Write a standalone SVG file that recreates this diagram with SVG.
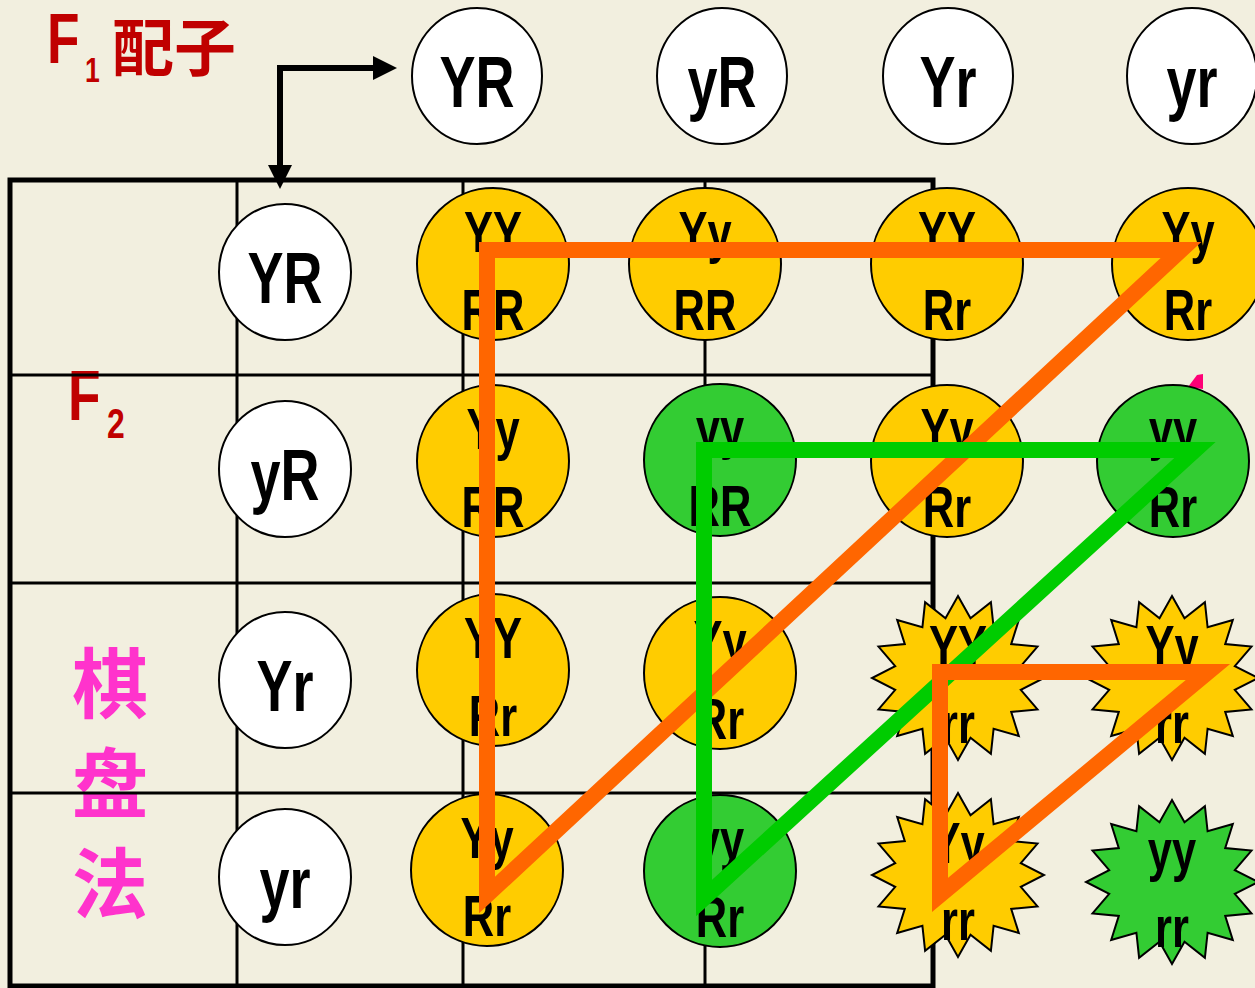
<svg xmlns="http://www.w3.org/2000/svg" width="1255" height="988" viewBox="0 0 1255 988">
  <style>
    .frame { fill: none; stroke: #000; stroke-width: 5; }
    .rule { stroke: #000; stroke-width: 3; }
    .gam { fill: #fff; stroke: #000; stroke-width: 2; }
    .yel { fill: #FFCC00; stroke: #000; stroke-width: 2; }
    .grn { fill: #33CC33; stroke: #000; stroke-width: 2; }
    .lbl { font-family: "Liberation Sans", Arial, sans-serif; font-weight: bold; fill: #000; text-anchor: middle; }
    .big { font-size: 72px; }
    .geno { font-size: 58px; }
    .title { font-family: "Liberation Sans", Arial, sans-serif; font-weight: bold; fill: #C00000; }
    .cjk { font-family: "Noto Sans CJK SC", "Noto Sans CJK TC", sans-serif; font-weight: 700; }
    .tri { fill: none; stroke-width: 16; stroke-linejoin: miter; stroke-miterlimit: 6; }
  </style>
  <defs>
    <marker id="head" markerUnits="userSpaceOnUse" markerWidth="24" markerHeight="24" refX="0" refY="12" orient="auto-start-reverse" overflow="visible">
      <path d="M0,0 L24,12 L0,24 Z" fill="#000"/>
    </marker>
    <!-- 16-point burst used for the rr genotypes -->
    <polygon id="burst" points="0,-82 12.5,-59.8 32.9,-75.8 35.6,-50.7 60.8,-58 53.2,-33.9 79.5,-31.4 62.8,-11.9 86,0 62.8,11.9 79.5,31.4 53.2,33.9 60.8,58 35.6,50.7 32.9,75.8 12.5,59.8 0,82 -12.5,59.8 -32.9,75.8 -35.6,50.7 -60.8,58 -53.2,33.9 -79.5,31.4 -62.8,11.9 -86,0 -62.8,-11.9 -79.5,-31.4 -53.2,-33.9 -60.8,-58 -35.6,-50.7 -32.9,-75.8 -12.5,-59.8"/>
  </defs>

  <rect width="1255" height="988" fill="#F2EFDF"/>

  <!-- titles -->
  <g id="title-f1">
    <text class="title" transform="translate(47,63) scale(0.76,1)" font-size="70">F</text>
    <text class="title" transform="translate(85,82) scale(0.76,1)" font-size="35">1</text>
    <text class="cjk" x="112" y="71" font-size="62" fill="#C00000">配子</text>
  </g>
  <g id="title-f2">
    <text class="title" transform="translate(68,420) scale(0.76,1)" font-size="70">F</text>
    <text class="title" transform="translate(107,438) scale(0.76,1)" font-size="42">2</text>
  </g>
  <g id="title-method" class="cjk" fill="#FF33CC" font-size="76" text-anchor="middle">
    <text x="110" y="712">棋</text>
    <text x="110" y="812">盘</text>
    <text x="110" y="912">法</text>
  </g>

  <!-- table -->
  <g id="table">
    <rect class="frame" x="10" y="180" width="923" height="806"/>
    <line class="rule" x1="237" y1="180" x2="237" y2="986"/>
    <line class="rule" x1="463" y1="180" x2="463" y2="986"/>
    <line class="rule" x1="705" y1="180" x2="705" y2="986"/>
    <line class="rule" x1="10" y1="375" x2="933" y2="375"/>
    <line class="rule" x1="10" y1="583" x2="933" y2="583"/>
    <line class="rule" x1="10" y1="793" x2="933" y2="793"/>
  </g>

  <!-- connectors -->
  <g id="connectors">
    <path d="M280,165 V68 H373" fill="none" stroke="#000" stroke-width="6" stroke-linejoin="miter" marker-start="url(#head)" marker-end="url(#head)"/>
  </g>

  <!-- F1 gametes (columns) -->
  <g id="gc-YR" transform="translate(477,76)"><ellipse class="gam" rx="65" ry="68"/><text class="lbl big" transform="scale(0.75,1)" y="31">YR</text></g>
  <g id="gc-yR" transform="translate(722,76)"><ellipse class="gam" rx="65" ry="68"/><text class="lbl big" transform="scale(0.75,1)" y="31">yR</text></g>
  <g id="gc-Yr" transform="translate(948,76)"><ellipse class="gam" rx="65" ry="68"/><text class="lbl big" transform="scale(0.75,1)" y="31">Yr</text></g>
  <g id="gc-yr" transform="translate(1192,76)"><ellipse class="gam" rx="65" ry="68"/><text class="lbl big" transform="scale(0.75,1)" y="31">yr</text></g>

  <!-- F1 gametes (rows) -->
  <g id="gr-YR" transform="translate(285,272)"><ellipse class="gam" rx="66" ry="68"/><text class="lbl big" transform="scale(0.75,1)" y="31">YR</text></g>
  <g id="gr-yR" transform="translate(285,469)"><ellipse class="gam" rx="66" ry="68"/><text class="lbl big" transform="scale(0.75,1)" y="31">yR</text></g>
  <g id="gr-Yr" transform="translate(285,680)"><ellipse class="gam" rx="66" ry="68"/><text class="lbl big" transform="scale(0.75,1)" y="31">Yr</text></g>
  <g id="gr-yr" transform="translate(285,877)"><ellipse class="gam" rx="66" ry="68"/><text class="lbl big" transform="scale(0.75,1)" y="31">yr</text></g>

  <!-- small magenta tip behind the yyRr cell -->
  <polygon points="1188,387 1197,375 1203,374 1203,389" fill="#FF0077"/>

  <!-- F2 genotypes -->
  <g id="c11" transform="translate(493,264)"><circle class="yel" r="76"/><g class="lbl geno" transform="scale(0.75,1)"><text y="-12">YY</text><text y="66">RR</text></g></g>
  <g id="c12" transform="translate(705,264)"><circle class="yel" r="76"/><g class="lbl geno" transform="scale(0.75,1)"><text y="-12">Yy</text><text y="66">RR</text></g></g>
  <g id="c13" transform="translate(947,264)"><circle class="yel" r="76"/><g class="lbl geno" transform="scale(0.75,1)"><text y="-12">YY</text><text y="66">Rr</text></g></g>
  <g id="c14" transform="translate(1188,264)"><circle class="yel" r="76"/><g class="lbl geno" transform="scale(0.75,1)"><text y="-12">Yy</text><text y="66">Rr</text></g></g>

  <g id="c21" transform="translate(493,461)"><circle class="yel" r="76"/><g class="lbl geno" transform="scale(0.75,1)"><text y="-12">Yy</text><text y="66">RR</text></g></g>
  <g id="c22" transform="translate(720,460)"><circle class="grn" r="76"/><g class="lbl geno" transform="scale(0.75,1)"><text y="-12">yy</text><text y="66">RR</text></g></g>
  <g id="c23" transform="translate(947,461)"><circle class="yel" r="76"/><g class="lbl geno" transform="scale(0.75,1)"><text y="-12">Yy</text><text y="66">Rr</text></g></g>
  <g id="c24" transform="translate(1173,461)"><circle class="grn" r="76"/><g class="lbl geno" transform="scale(0.75,1)"><text y="-12">yy</text><text y="66">Rr</text></g></g>

  <g id="c31" transform="translate(493,670)"><circle class="yel" r="76"/><g class="lbl geno" transform="scale(0.75,1)"><text y="-12">YY</text><text y="66">Rr</text></g></g>
  <g id="c32" transform="translate(720,673)"><circle class="yel" r="76"/><g class="lbl geno" transform="scale(0.75,1)"><text y="-12">Yy</text><text y="66">Rr</text></g></g>
  <g id="c33" transform="translate(958,678)"><use href="#burst" class="yel"/><g class="lbl geno" transform="scale(0.75,1)"><text y="-12">YY</text><text y="65">rr</text></g></g>
  <g id="c34" transform="translate(1172,678)"><use href="#burst" class="yel"/><g class="lbl geno" transform="scale(0.75,1)"><text y="-12">Yy</text><text y="65">rr</text></g></g>

  <g id="c41" transform="translate(487,870)"><circle class="yel" r="76"/><g class="lbl geno" transform="scale(0.75,1)"><text y="-12">Yy</text><text y="66">Rr</text></g></g>
  <g id="c42" transform="translate(720,871)"><circle class="grn" r="76"/><g class="lbl geno" transform="scale(0.75,1)"><text y="-12">yy</text><text y="66">Rr</text></g></g>
  <g id="c43" transform="translate(958,875)"><use href="#burst" class="yel"/><g class="lbl geno" transform="scale(0.75,1)"><text y="-12">Yy</text><text y="65">rr</text></g></g>
  <g id="c44" transform="translate(1172,882)"><use href="#burst" class="grn"/><g class="lbl geno" transform="scale(0.75,1)"><text y="-12">yy</text><text y="65">rr</text></g></g>

  <!-- grouping triangles -->
  <g id="triangles">
    <polygon class="tri" stroke="#FF6600" points="487,250 1181,250 487,895"/>
    <polygon class="tri" stroke="#00CC00" points="704,450 1195,450 704,898"/>
    <polygon class="tri" stroke="#FF6600" points="940,672 1208,672 940,895"/>
  </g>
</svg>
